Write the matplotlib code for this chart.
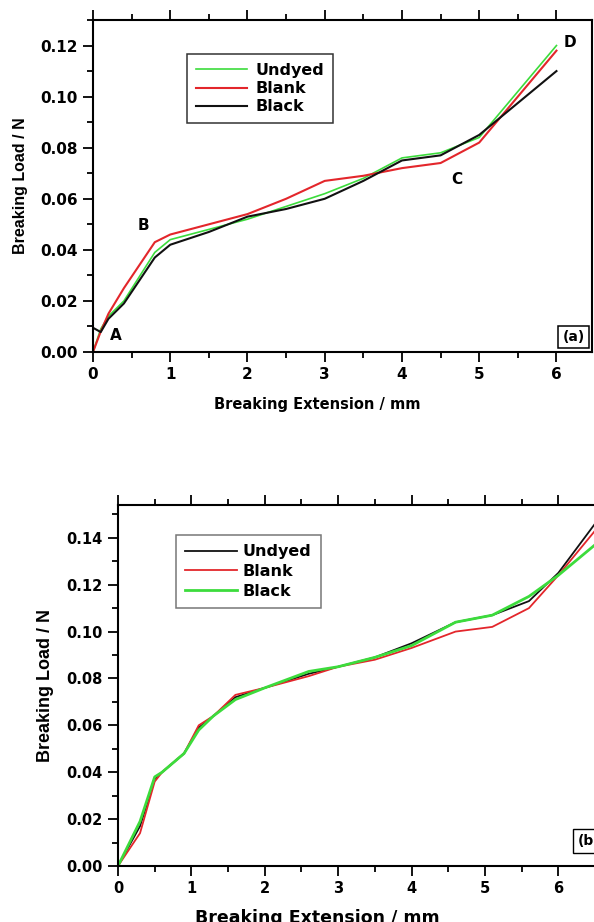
import numpy as np
import matplotlib as mpl
mpl.use("Agg")
import matplotlib.pyplot as plt
from matplotlib.ticker import MultipleLocator

# panel (a)
xa = [0, 0.1, 0.2, 0.4, 0.8, 1.0, 1.5, 2, 2.5, 3, 3.5, 4, 4.5, 5, 6]
undyed_a = [0.0, 0.009, 0.014, 0.020, 0.039, 0.044, 0.048, 0.052, 0.057, 0.062, 0.068, 0.076, 0.078, 0.084, 0.120]
blank_a = [0.0, 0.008, 0.015, 0.025, 0.043, 0.046, 0.050, 0.054, 0.060, 0.067, 0.069, 0.072, 0.074, 0.082, 0.118]
black_a = [0.0095, 0.0078, 0.013, 0.019, 0.037, 0.042, 0.047, 0.053, 0.056, 0.060, 0.067, 0.075, 0.077, 0.085, 0.110]
pts_a = ["A", "B", "C", "D"]
pts_ax = [0.29, 0.65, 4.71, 6.17]
pts_ay = [0.0063, 0.0495, 0.0675, 0.121]

# panel (b)
xb = [0, 0.3, 0.5, 0.6, 0.9, 1.1, 1.3, 1.6, 2, 2.6, 3, 3.5, 4, 4.6, 5.1, 5.6, 6.0, 6.5]
undyed_b = [0.0, 0.017, 0.037, 0.040, 0.048, 0.059, 0.064, 0.072, 0.076, 0.082, 0.085, 0.089, 0.095, 0.104, 0.107, 0.113, 0.125, 0.146]
blank_b = [0.0, 0.014, 0.036, 0.040, 0.048, 0.060, 0.064, 0.073, 0.076, 0.081, 0.085, 0.088, 0.093, 0.100, 0.102, 0.110, 0.124, 0.143]
black_b = [0.0, 0.019, 0.038, 0.040, 0.048, 0.058, 0.064, 0.071, 0.076, 0.083, 0.085, 0.089, 0.094, 0.104, 0.107, 0.115, 0.124, 0.137]

GREEN = '#3cdc3c'
RED = '#e3262b'
BLACK = '#111111'

plt.rcParams['font.family'] = 'DejaVu Sans'
plt.rcParams['font.weight'] = 'bold'

fig = plt.figure(figsize=(5.94, 9.22), dpi=100)
W, H = 594.0, 922.0


def style(ax, xmax, ymax, fs_tick, fs_x, fs_y, xlab_pos):
    ax.set_xlim(0, xmax)
    ax.set_ylim(0, ymax)
    ax.xaxis.set_major_locator(MultipleLocator(1))
    ax.xaxis.set_minor_locator(MultipleLocator(0.5))
    ax.yaxis.set_major_locator(MultipleLocator(0.02))
    ax.yaxis.set_minor_locator(MultipleLocator(0.01))
    ax.yaxis.set_major_formatter(mpl.ticker.FormatStrFormatter('%.2f'))
    ax.tick_params(which='both', direction='out', top=True, right=False, labelsize=fs_tick, width=1.3)
    ax.tick_params(which='major', length=7, pad=4)
    ax.tick_params(which='minor', length=4)
    for s in ax.spines.values():
        s.set_linewidth(1.5)
    for lab in ax.get_xticklabels() + ax.get_yticklabels():
        lab.set_fontweight('bold')
    ax.set_xlabel('Breaking Extension / mm', fontsize=fs_x, fontweight='bold')
    ax.set_ylabel('Breaking Load / N', fontsize=fs_y, fontweight='bold', family='Liberation Sans')
    ax.xaxis.set_label_coords(xlab_pos[0], xlab_pos[1])
    ax.yaxis.set_label_coords(-0.146, 0.5)
    ax.xaxis.label.set_va('center')
    ax.yaxis.label.set_va('center')


# (a)
ax1 = fig.add_axes([93 / W, (H - 352) / H, 499 / W, 332 / H])
ax1.plot(xa, undyed_a, color=GREEN, lw=1.2, label='Undyed')
ax1.plot(xa, blank_a, color=RED, lw=1.5, label='Blank')
ax1.plot(xa, black_a, color=BLACK, lw=1.5, label='Black')
style(ax1, 6.46, 0.13, 11, 10.5, 11.5, (0.45, -0.157))
for t, x, y in zip(pts_a, pts_ax, pts_ay):
    ax1.text(x, y, t, fontsize=11, fontweight='bold', ha='center', va='center')
leg = ax1.legend(loc='upper left', bbox_to_anchor=(0.189, 0.897), borderaxespad=0, fancybox=False,
                 edgecolor='black', prop={'weight': 'bold', 'size': 11.5}, handlelength=3.2,
                 handletextpad=0.5, borderpad=0.55, labelspacing=0.2)
leg.get_frame().set_linewidth(1.1)
ax1.text(0.963, 0.045, '(a)', transform=ax1.transAxes, fontsize=10, fontweight='bold', ha='center', va='center',
         bbox=dict(boxstyle='square,pad=0.3', fc='white', ec='black', lw=1.1))

# (b)
ax2 = fig.add_axes([118 / W, (H - 866) / H, 499 / W, 361 / H])
ax2.plot(xb, undyed_b, color=BLACK, lw=1.3, label='Undyed')
ax2.plot(xb, blank_b, color=RED, lw=1.3, label='Blank')
ax2.plot(xb, black_b, color=GREEN, lw=2.0, label='Black')
style(ax2, 6.8, 0.154, 10.5, 12.5, 13, (0.40, -0.144))
leg2 = ax2.legend(loc='upper left', bbox_to_anchor=(0.116, 0.918), borderaxespad=0, fancybox=False,
                  edgecolor='#555555', prop={'weight': 'bold', 'size': 11.5}, handlelength=3.2,
                  handletextpad=0.4, borderpad=0.6, labelspacing=0.3)
leg2.get_frame().set_linewidth(1.1)
ax2.text(0.945, 0.07, '(b)', transform=ax2.transAxes, fontsize=10, fontweight='bold', ha='center', va='center',
         bbox=dict(boxstyle='square,pad=0.35', fc='white', ec='black', lw=1.0))

fig.savefig('out.png', dpi=100)
